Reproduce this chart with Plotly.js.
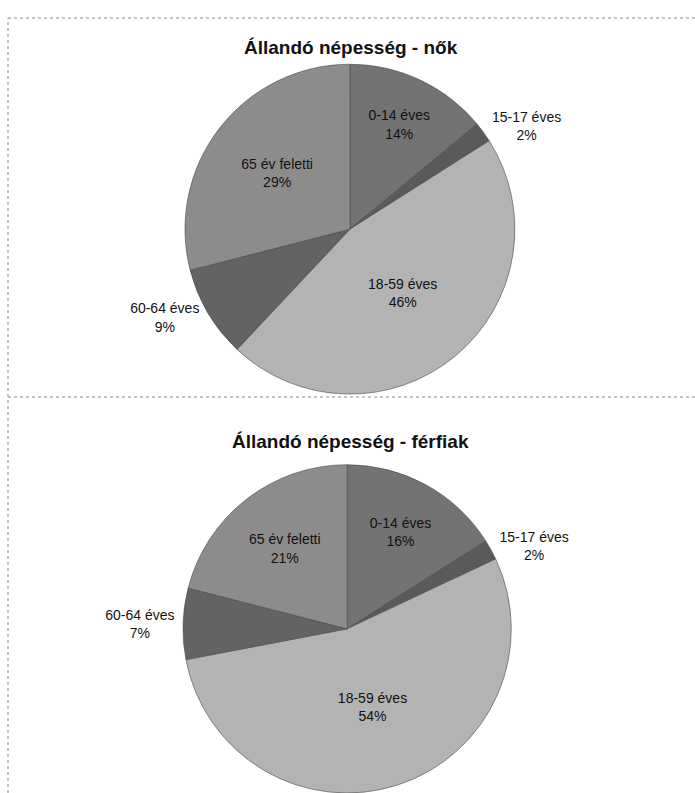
<!DOCTYPE html>
<html>
<head>
<meta charset="utf-8">
<script src="https://cdn.plot.ly/plotly-3.0.1.min.js"></script>
<style>
  html, body { margin: 0; padding: 0; background: #ffffff; }
  #chart { width: 695px; height: 793px; }
</style>
</head>
<body>
<div id="chart"></div>
<script>
// Age groups (categories)
const categories = ["0-14 éves", "15-17 éves", "18-59 éves", "60-64 éves", "65 év feletti"];
// Shares in percent
const womenValues = [14, 2, 46, 9, 29];
const menValues = [16, 2, 54, 7, 21];
// Titles
const womenTitle = "Állandó népesség - nők";
const menTitle = "Állandó népesség - férfiak";

const sliceColors = ["#737373", "#5a5a5a", "#b3b3b3", "#636363", "#8c8c8c"];
const textPos = ["inside", "outside", "inside", "outside", "inside"];
const fontFamily = "Liberation Sans, Arial, sans-serif";

function pieTrace(values, domain) {
  return {
    type: "pie",
    labels: categories,
    values: values,
    sort: false,
    direction: "clockwise",
    rotation: 0,
    domain: domain,
    marker: { colors: sliceColors, line: { color: "#4a4a4a", width: 0.6 } },
    texttemplate: "%{label}<br>%{value}%",
    textposition: textPos,
    insidetextorientation: "horizontal",
    textfont: { family: fontFamily, size: 14, color: "#111111" },
    outsidetextfont: { family: fontFamily, size: 14, color: "#111111" },
    insidetextfont: { family: fontFamily, size: 14, color: "#111111" },
    hoverinfo: "label+percent",
    showlegend: false
  };
}

const data = [
  pieTrace(womenValues, { x: [0.263, 0.744], y: [0.503, 0.919] }),
  pieTrace(menValues, { x: [0.259, 0.740], y: [0.0, 0.414] })
];

const borderLine = { color: "#8a8a8a", width: 1, dash: "dot" };

const layout = {
  width: 695,
  height: 793,
  margin: { l: 0, r: 0, t: 0, b: 0 },
  paper_bgcolor: "#ffffff",
  plot_bgcolor: "#ffffff",
  showlegend: false,
  annotations: [
    { text: "<b>" + womenTitle + "</b>", x: 0.505, y: 1 - 47 / 793, xref: "paper", yref: "paper",
      showarrow: false, xanchor: "center", yanchor: "middle",
      font: { family: fontFamily, size: 19, color: "#111111" } },
    { text: "<b>" + menTitle + "</b>", x: 0.505, y: 1 - 442 / 793, xref: "paper", yref: "paper",
      showarrow: false, xanchor: "center", yanchor: "middle",
      font: { family: fontFamily, size: 19, color: "#111111" } }
  ],
  shapes: [
    { type: "line", xref: "paper", yref: "paper", x0: 8 / 695, x1: 1, y0: 1 - 18 / 793, y1: 1 - 18 / 793, line: borderLine },
    { type: "line", xref: "paper", yref: "paper", x0: 8 / 695, x1: 1, y0: 1 - 397 / 793, y1: 1 - 397 / 793, line: borderLine },
    { type: "line", xref: "paper", yref: "paper", x0: 8 / 695, x1: 8 / 695, y0: 0, y1: 1 - 18 / 793, line: borderLine }
  ]
};

Plotly.newPlot("chart", data, layout, { displayModeBar: false, staticPlot: true });
</script>
</body>
</html>
